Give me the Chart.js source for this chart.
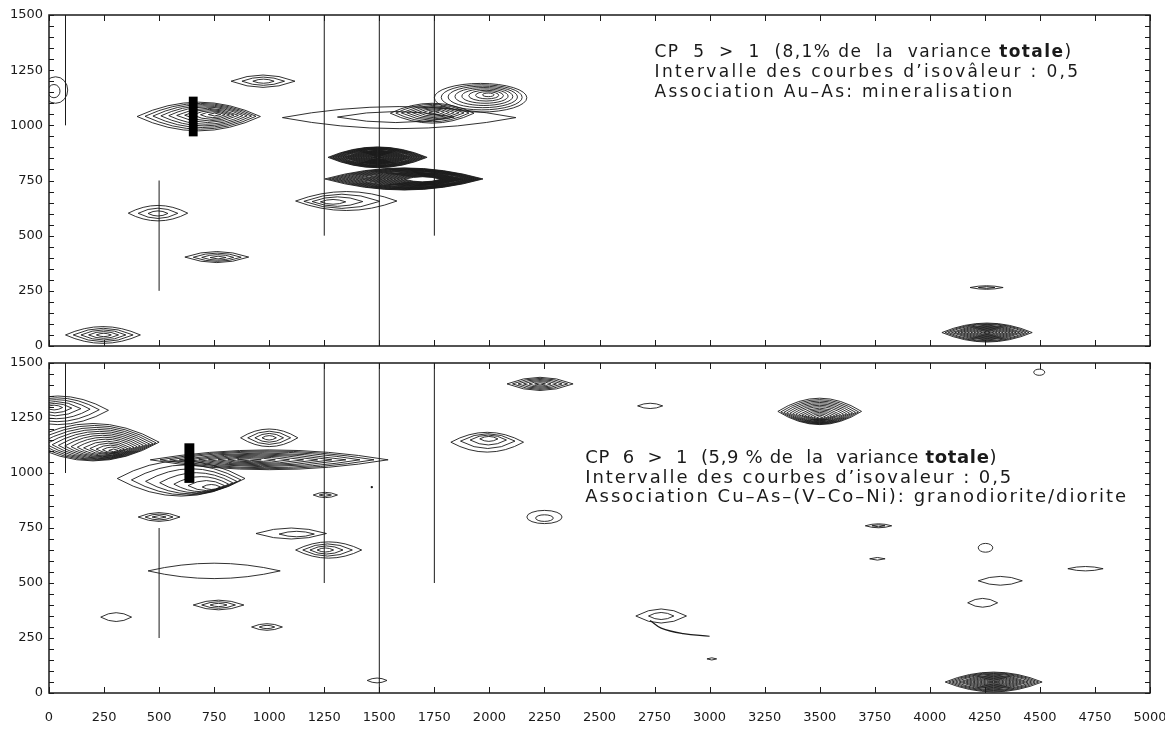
<!DOCTYPE html>
<html>
<head>
<meta charset="utf-8">
<script src="https://cdn.jsdelivr.net/npm/chart.js@4.4.0/dist/chart.umd.min.js"></script>
<style>
body { margin: 0; background: #fff; width: 1165px; height: 733px; overflow: hidden; position: relative; }
canvas { position: absolute; left: 0; }
#cp5 { top: 0; }
#cp6 { top: 350px; }
</style>
</head>
<body>
<canvas id="cp5" width="1165" height="360"></canvas>
<canvas id="cp6" width="1165" height="383"></canvas>
<script>
// axis ticks
const xTicks = [0, 250, 500, 750, 1000, 1250, 1500, 1750, 2000, 2250, 2500, 2750, 3000, 3250, 3500, 3750, 4000, 4250, 4500, 4750, 5000]
const yTicks = [0, 250, 500, 750, 1000, 1250, 1500]

// vertical section lines (same on both maps)
const vlineX = [75, 500, 1250, 1500, 1750]
const vlineFrom = [1000, 250, 500, 0, 500]
const vlineTo = [1500, 750, 1500, 1500, 1500]

// isovalue contours: [cx, cy, rx, ry, rings, innerCx, innerCy, hole, shape]
const cp5Contours = [
    [30, 1160, 55, 60, 2, 15, 1150, 0, 'e'],
    [245, 50, 170, 38, 5, 250, 50, 0, 'l'],
    [495, 602, 135, 35, 3, 495, 600, 0, 'l'],
    [762, 403, 145, 25, 4, 770, 400, 0, 'l'],
    [972, 1200, 145, 28, 3, 975, 1200, 0, 'l'],
    [680, 1040, 280, 65, 10, 760, 1050, 0, 'l'],
    [1590, 1035, 530, 50, 2, 1560, 1040, 0, 'l'],
    [1740, 1055, 190, 45, 8, 1750, 1060, 0, 'l'],
    [1960, 1125, 210, 65, 8, 2000, 1140, 0, 'e'],
    [1492, 855, 225, 47, 30, 1492, 855, 0, 'l'],
    [1612, 757, 359, 50, 30, 1723, 755, 0.2, 'l'],
    [1350, 657, 230, 43, 4, 1270, 652, 0, 'l'],
    [4260, 61, 205, 43, 14, 4260, 61, 0, 'l'],
    [4258, 265, 75, 8, 2, 4258, 265, 0, 'l']
]
const cp6Contours = [
    [40, 1285, 230, 65, 6, 20, 1300, 0, 'l'],
    [200, 1140, 300, 85, 14, 300, 1100, 0, 'l'],
    [1000, 1060, 540, 45, 10, 900, 1060, 0, 'l'],
    [600, 975, 290, 80, 7, 760, 930, 0, 'l'],
    [1000, 1160, 130, 40, 4, 1000, 1160, 0, 'l'],
    [500, 800, 95, 20, 3, 500, 800, 0, 'l'],
    [1255, 900, 55, 12, 2, 1255, 900, 0, 'l'],
    [1270, 650, 150, 37, 4, 1250, 650, 0, 'l'],
    [1100, 725, 160, 25, 2, 1150, 720, 0, 'l'],
    [750, 555, 300, 35, 1, 750, 555, 0, 'l'],
    [305, 345, 70, 20, 1, 305, 345, 0, 'l'],
    [770, 400, 115, 22, 3, 770, 400, 0, 'l'],
    [990, 300, 70, 15, 2, 990, 300, 0, 'l'],
    [1490, 57, 45, 11, 1, 1490, 57, 0, 'l'],
    [2230, 1405, 150, 30, 6, 2230, 1405, 0, 'l'],
    [2730, 1305, 57, 12, 1, 2730, 1305, 0, 'l'],
    [1990, 1140, 165, 45, 4, 2000, 1160, 0, 'l'],
    [2250, 800, 80, 30, 2, 2250, 790, 0, 'e'],
    [2780, 350, 115, 32, 2, 2780, 350, 0, 'l'],
    [3010, 155, 22, 5, 1, 3010, 155, 0, 'l'],
    [3500, 1280, 190, 60, 14, 3500, 1250, 0, 'l'],
    [4497, 1458, 25, 14, 1, 4497, 1458, 0, 'e'],
    [3767, 760, 60, 9, 2, 3767, 760, 0, 'l'],
    [3762, 610, 35, 6, 1, 3762, 610, 0, 'l'],
    [4253, 660, 33, 20, 1, 4253, 660, 0, 'e'],
    [4320, 510, 100, 20, 1, 4320, 510, 0, 'l'],
    [4240, 410, 68, 20, 1, 4240, 410, 0, 'l'],
    [4707, 565, 80, 10, 1, 4707, 565, 0, 'l'],
    [4290, 50, 220, 45, 14, 4290, 50, 0, 'l']
]

// open tail of the contour near 2750/350 on CP6
const cp6TailX = [2730, 2780, 2880, 3000]
const cp6TailY = [330, 295, 270, 258]
const cp6DotX = [1466]
const cp6DotY = [936]

// sample marker bars [x0, x1, y0, y1]
const cp5Bar = [635, 675, 950, 1130]
const cp6Bar = [615, 660, 955, 1135]

// captions
const cp5Notes = [
    [['CP  5  >  1  (8,1% de  la  variance ', false], ['totale', true], [')', false]],
    [['Intervalle des courbes d\u2019isov\u00e2leur : 0,5', false]],
    [['Association Au\u2013As: mineralisation', false]]
]
const cp6Notes = [
    [['CP  6  >  1  (5,9 % de  la  variance ', false], ['totale', true], [')', false]],
    [['Intervalle des courbes d\u2019isovaleur : 0,5', false]],
    [['Association Cu\u2013As\u2013(V\u2013Co\u2013Ni): granodiorite/diorite', false]]
]

const ink = '#1a1a1a'
Chart.defaults.font.family = 'DejaVu Sans'
Chart.defaults.font.size = 13
Chart.defaults.color = ink

function lens(ctx, cx, cy, rx, ry, shape) {
    ctx.beginPath()
    if (shape == 'e') {
        ctx.ellipse(cx, cy, rx, ry, 0, 0, Math.PI * 2)
    } else {
        ctx.moveTo(cx - rx, cy)
        ctx.quadraticCurveTo(cx, cy - 2 * ry, cx + rx, cy)
        ctx.quadraticCurveTo(cx, cy + 2 * ry, cx - rx, cy)
        ctx.closePath()
    }
    ctx.stroke()
}

const contourPlugin = {
    id: 'contours',
    beforeDatasetsDraw(chart, args, opts) {
        const ctx = chart.ctx, x = chart.scales.x, y = chart.scales.y, a = chart.chartArea
        ctx.save()
        ctx.beginPath()
        ctx.rect(a.left, a.top, a.right - a.left, a.bottom - a.top)
        ctx.clip()
        ctx.strokeStyle = ink
        ctx.lineWidth = 0.9
        opts.contours.forEach(c => {
            const [cx, cy, rx, ry, n, icx, icy, hole, shape] = c
            for (let k = n; k >= 1; k--) {
                const t = k / n
                if (t <= hole) continue
                const mx = icx + (cx - icx) * t
                const my = icy + (cy - icy) * t
                const px = x.getPixelForValue(mx), py = y.getPixelForValue(my)
                const prx = Math.abs(x.getPixelForValue(mx + rx * t) - px)
                const pry = Math.abs(y.getPixelForValue(my + ry * t) - py)
                lens(ctx, px, py, prx, pry, shape)
            }
        })
        // marker bar
        const b = opts.bar
        ctx.fillStyle = '#000'
        const bx0 = x.getPixelForValue(b[0]), bx1 = x.getPixelForValue(b[1])
        const by0 = y.getPixelForValue(b[2]), by1 = y.getPixelForValue(b[3])
        ctx.fillRect(bx0, by1, bx1 - bx0, by0 - by1)
        ctx.restore()
    },
    afterDraw(chart, args, opts) {
        const ctx = chart.ctx, x = chart.scales.x, y = chart.scales.y, a = chart.chartArea
        ctx.save()
        ctx.strokeStyle = ink
        // frame
        ctx.lineWidth = 1.5
        ctx.strokeRect(a.left, a.top, a.right - a.left, a.bottom - a.top)
        // inward ticks
        ctx.lineWidth = 1
        ctx.beginPath()
        xTicks.forEach(v => {
            const px = Math.round(x.getPixelForValue(v)) + 0.5
            ctx.moveTo(px, a.bottom); ctx.lineTo(px, a.bottom - 6)
            ctx.moveTo(px, a.top); ctx.lineTo(px, a.top + 6)
        })
        for (let v = 0; v <= 1500; v += 50) {
            const py = Math.round(y.getPixelForValue(v)) + 0.5
            ctx.moveTo(a.left, py); ctx.lineTo(a.left + 5, py)
            ctx.moveTo(a.right, py); ctx.lineTo(a.right - 5, py)
        }
        ctx.stroke()
        // captions
        const x0 = x.getPixelForValue(opts.noteX)
        let base = y.getPixelForValue(opts.noteY)
        opts.notes.forEach((line, i) => {
            ctx.letterSpacing = '0px'
            let w = 0, len = 0
            line.forEach(p => {
                ctx.font = (p[1] ? 'bold ' : '') + opts.noteSize + 'px "DejaVu Sans"'
                w += ctx.measureText(p[0]).width
                len += p[0].length
            })
            const sp = (opts.noteWidths[i] - w) / len
            let cx = x0
            ctx.fillStyle = ink
            ctx.textBaseline = 'alphabetic'
            line.forEach(p => {
                ctx.font = (p[1] ? 'bold ' : '') + opts.noteSize + 'px "DejaVu Sans"'
                ctx.letterSpacing = '0px'
                const pw = ctx.measureText(p[0]).width
                ctx.letterSpacing = sp + 'px'
                ctx.fillText(p[0], cx, base)
                cx += pw + sp * p[0].length
            })
            base += opts.noteGap
        })
        ctx.restore()
    }
}

function lineSets(extra) {
    const sets = vlineX.map((vx, i) => ({
        data: [{ x: vx, y: vlineFrom[i] }, { x: vx, y: vlineTo[i] }],
        showLine: true,
        pointRadius: 0,
        borderColor: ink,
        borderWidth: 1
    }))
    return sets.concat(extra || [])
}

function makeChart(id, cfg) {
    return new Chart(document.getElementById(id), {
        type: 'scatter',
        data: { datasets: lineSets(cfg.extra) },
        options: {
            responsive: false,
            animation: false,
            devicePixelRatio: 1,
            layout: { padding: cfg.padding },
            plugins: {
                legend: { display: false },
                tooltip: { enabled: false },
                contours: cfg.plugin
            },
            scales: {
                x: {
                    type: 'linear', min: 0, max: 5000,
                    display: cfg.showX,
                    grid: { display: false, drawTicks: false },
                    border: { display: false },
                    afterBuildTicks: s => { s.ticks = xTicks.map(v => ({ value: v })) },
                    afterFit: s => {
                        s.height = cfg.showX ? 40 : 0
                        s.paddingLeft = 0
                        s.paddingRight = 0
                    },
                    ticks: { autoSkip: false, maxRotation: 0, padding: 17, callback: v => String(v) }
                },
                y: {
                    type: 'linear', min: 0, max: 1500,
                    grid: { display: false, drawTicks: false },
                    border: { display: false },
                    afterBuildTicks: s => { s.ticks = yTicks.map(v => ({ value: v })) },
                    afterFit: s => {
                        s.width = 49
                        s.paddingTop = 0
                        s.paddingBottom = 0
                    },
                    ticks: { autoSkip: false, padding: 6, callback: v => String(v) }
                }
            }
        },
        plugins: [contourPlugin]
    })
}

makeChart('cp5', {
    padding: { left: 0, top: 15, right: 15, bottom: 14 },
    showX: false,
    plugin: {
        contours: cp5Contours, bar: cp5Bar, notes: cp5Notes,
        noteX: 2750, noteY: 1310, noteSize: 17, noteGap: 20,
        noteWidths: [418, 426, 360]
    }
})

makeChart('cp6', {
    padding: { left: 0, top: 13, right: 15, bottom: 0 },
    showX: true,
    extra: [
        {
            data: cp6TailX.map((v, i) => ({ x: v, y: cp6TailY[i] })),
            showLine: true, pointRadius: 0, borderColor: ink, borderWidth: 1.2, tension: 0.4
        },
        {
            data: cp6DotX.map((v, i) => ({ x: v, y: cp6DotY[i] })),
            pointRadius: 1.2, backgroundColor: ink, borderWidth: 0
        }
    ],
    plugin: {
        contours: cp6Contours, bar: cp6Bar, notes: cp6Notes,
        noteX: 2435, noteY: 1045, noteSize: 18, noteGap: 19.5,
        noteWidths: [412, 428, 543]
    }
})
</script>
</body>
</html>
